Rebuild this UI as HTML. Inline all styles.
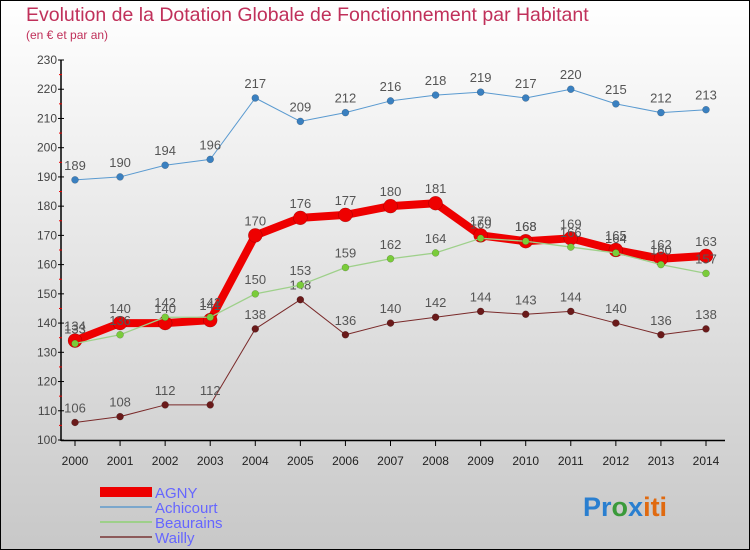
<!DOCTYPE html>
<html><head><meta charset="utf-8"><style>
body{margin:0;width:750px;height:550px;overflow:hidden}
svg{display:block}
text{font-family:"Liberation Sans",sans-serif}
</style></head><body>
<svg id="c" width="750" height="550" xmlns="http://www.w3.org/2000/svg">
<defs><linearGradient id="bg" x1="0" y1="0" x2="0" y2="1"><stop offset="0" stop-color="#ffffff"/><stop offset="1" stop-color="#c8c8c8"/></linearGradient></defs>
<rect x="0.5" y="0.5" width="749" height="549" fill="url(#bg)" stroke="#000"/>
<text x="26" y="21" font-size="19.5" fill="#c0305a">Evolution de la Dotation Globale de Fonctionnement par Habitant</text>
<text x="26" y="39" font-size="12" fill="#c0305a">(en € et par an)</text>
<g id="axes"></g><g id="series"></g>
<g>
<rect x="100" y="487" width="52" height="10" fill="#ee0000"/>
<text x="155" y="498" font-size="15" fill="#6666ff">AGNY</text>
<rect x="100" y="506" width="52" height="2" fill="#7ba7cc"/>
<text x="155" y="513" font-size="15" fill="#6666ff">Achicourt</text>
<rect x="100" y="521" width="52" height="2" fill="#9ed08a"/>
<text x="155" y="528" font-size="15" fill="#6666ff">Beaurains</text>
<rect x="100" y="536" width="52" height="2" fill="#8c5a5a"/>
<text x="155" y="543" font-size="15" fill="#6666ff">Wailly</text>
</g>
<text x="583" y="516" font-size="27" font-weight="bold"><tspan fill="#2a7fd0">Pr</tspan><tspan fill="#3a9a3a">o</tspan><tspan fill="#2a7fd0">x</tspan><tspan fill="#e06a10">iti</tspan></text>
</svg>
<script>
const years=[2000,2001,2002,2003,2004,2005,2006,2007,2008,2009,2010,2011,2012,2013,2014];
const yTicks=[100,110,120,130,140,150,160,170,180,190,200,210,220,230];
const agny=[134,140,140,141,170,176,177,180,181,170,168,169,165,162,163];
const achicourt=[189,190,194,196,217,209,212,216,218,219,217,220,215,212,213];
const beaurains=[133,136,142,142,150,153,159,162,164,169,168,166,164,160,157];
const wailly=[106,108,112,112,138,148,136,140,142,144,143,144,140,136,138];
const NS="http://www.w3.org/2000/svg";
const X=i=>75+i*(706-75)/(years.length-1);
const Y=v=>440-(v-100)*(380/130);
function mk(tag,attrs,parent){const e=document.createElementNS(NS,tag);for(const k in attrs)e.setAttribute(k,attrs[k]);parent.appendChild(e);return e;}
const ax=document.getElementById('axes');
const ya=mk('line',{x1:61,y1:60,x2:61,y2:441,stroke:'#000','stroke-width':1.5},ax);


const xa=mk('line',{x1:61,y1:440.5,x2:725,y2:440.5,stroke:'#000','stroke-width':1.5},ax);


yTicks.forEach((t,i)=>{
  mk('line',{x1:58,y1:Y(t),x2:64,y2:Y(t),stroke:'#000'},ax);
  if(i<yTicks.length-1)mk('line',{x1:59,y1:Y(t+5),x2:62,y2:Y(t+5),stroke:'#e00'},ax);
  const tx=mk('text',{x:57,y:Y(t)+4,'font-size':12,fill:'#444','text-anchor':'end'},ax);
  tx.textContent=t;
  
  
});
years.forEach((yr,i)=>{
  mk('line',{x1:X(i),y1:440,x2:X(i),y2:446,stroke:'#000'},ax);
  const tx=mk('text',{x:X(i),y:465,'font-size':12,fill:'#222','text-anchor':'middle'},ax);
  tx.textContent=yr;
  
  
});
const sg=document.getElementById('series');
function series(name,data,color,w,r,dot){
  const g=mk('g',{},sg);
  
  
  const pl=mk('polyline',{points:data.map((v,i)=>X(i)+','+Y(v)).join(' '),fill:'none',stroke:color,'stroke-width':w,'stroke-linejoin':'round'},g);
  
  
  data.forEach((v,i)=>{
    const c=mk('circle',{cx:X(i),cy:Y(v),r:r,fill:dot,stroke:'rgba(0,0,0,0.3)','stroke-width':0.5},g);
    
    
    const t=mk('text',{x:X(i),y:Y(v)-10,'font-size':13,fill:'#555','text-anchor':'middle'},g);
    t.textContent=v;
    
    
  });
}
series('wailly',wailly,'#7a2a2a',1,3.5,'#6a1a1a');
series('achicourt',achicourt,'#5a9ad0',1,3.5,'#3a80c0');
series('agny',agny,'#ee0000',8,7,'#ee0000');
series('beaurains',beaurains,'#9ed08a',1.3,3.5,'#7acc3a');
</script>
</body></html>
